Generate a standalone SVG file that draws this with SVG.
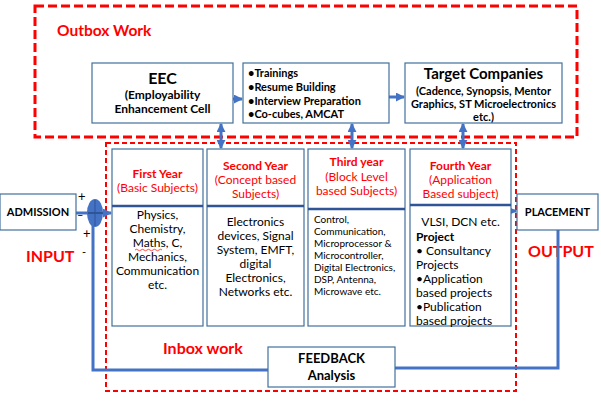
<svg xmlns="http://www.w3.org/2000/svg" width="601" height="402" viewBox="0 0 601 402">
<defs>
<style>
text{font-family:Lato,"Liberation Sans",Arial,sans-serif;fill:#000}
.box{fill:#fff;stroke:#41719C;stroke-width:1.2}
.b{font-weight:bold}
.red{fill:#FF0000}
.c{text-anchor:middle}
.blue{stroke:#4472C4;stroke-width:3;fill:none}
.dashO{fill:none;stroke:#FF0000;stroke-width:3;stroke-dasharray:9,4}
.dashI{fill:none;stroke:#FF0000;stroke-width:2;stroke-dasharray:5,3}
.div{stroke:#2F5597;stroke-width:2.5}
</style>
<marker id="ah" viewBox="0 0 10 10" refX="9" refY="5" markerWidth="3" markerHeight="3" orient="auto-start-reverse">
<path d="M0,0 L10,5 L0,10 z" fill="#4472C4"/>
</marker>
</defs>

<rect class="dashO" x="35" y="6" width="542" height="131"/>
<rect class="dashI" x="106" y="143" width="410" height="248"/>
<text class="b red" x="57" y="36" font-size="15.5">Outbox Work</text>
<text class="b red" x="163" y="354" font-size="16">Inbox work</text>
<text class="b red" x="26" y="262" font-size="16">INPUT</text>
<text class="b red" x="528" y="257" font-size="16">OUTPUT</text>

<g id="connectors">
<line class="blue" x1="233" y1="99" x2="242" y2="99" stroke-width="2.5" marker-end="url(#ah)"/>
<line class="blue" x1="389" y1="97" x2="404" y2="97" marker-end="url(#ah)"/>
<line class="blue" x1="221" y1="124" x2="221" y2="148" marker-start="url(#ah)" marker-end="url(#ah)"/>
<line class="blue" x1="352" y1="124" x2="352" y2="148" marker-start="url(#ah)" marker-end="url(#ah)"/>
<line class="blue" x1="463" y1="124" x2="463" y2="148" marker-start="url(#ah)" marker-end="url(#ah)"/>
<line class="blue" x1="76" y1="213" x2="88" y2="213"/>
<line class="blue" x1="102" y1="213" x2="111" y2="213" marker-end="url(#ah)"/>
<line class="blue" x1="511" y1="211" x2="516" y2="211" stroke-width="2.5" marker-end="url(#ah)"/>
<polyline class="blue" points="93,225 93,370 268,370"/>
<polyline class="blue" points="558,230 558,368 395,368"/>
</g>

<g id="eec">
<rect class="box" x="92" y="63" width="141" height="60"/>
<text class="b c" x="162.5" y="84" font-size="16">EEC</text>
<text class="b c" x="162.5" y="99" font-size="12">(Employability</text>
<text class="b c" x="162.5" y="113" font-size="12">Enhancement Cell</text>
</g>

<g id="trainings">
<rect class="box" x="243" y="63" width="146" height="60"/>
<text class="b" x="248" y="77" font-size="11">•Trainings</text>
<text class="b" x="248" y="91" font-size="11">•Resume Building</text>
<text class="b" x="248" y="105" font-size="11">•Interview Preparation</text>
<text class="b" x="248" y="118" font-size="11">•Co-cubes, AMCAT</text>
</g>

<g id="target">
<rect class="box" x="405" y="63" width="157" height="60"/>
<text class="b c" x="483.5" y="79" font-size="15">Target Companies</text>
<text class="b c" x="483.5" y="95" font-size="11">(Cadence, Synopsis, Mentor</text>
<text class="b c" x="483.5" y="108" font-size="11">Graphics, ST Microelectronics</text>
<text class="b c" x="483.5" y="121" font-size="11">etc.)</text>
</g>

<g id="first-year">
<rect class="box" x="112" y="149" width="91" height="177"/>
<line class="div" x1="112" y1="206" x2="203" y2="206"/>
<text class="b red c" x="157.5" y="178" font-size="12">First Year</text>
<text class="red c" x="157.5" y="192" font-size="12">(Basic Subjects)</text>
<text class="c" x="157.5" y="219" font-size="12">Physics,</text>
<text class="c" x="157.5" y="233" font-size="12">Chemistry,</text>
<text class="c" x="157.5" y="247" font-size="12">Maths, C,</text>
<path d="M135,250 q1.5,-1.5 3,0 t3,0 t3,0 t3,0 t3,0 t3,0 t3,0 t3,0 t3,0" fill="none" stroke="#FF0000" stroke-width="0.7"/>
<text class="c" x="157.5" y="261" font-size="12">Mechanics,</text>
<text class="c" x="157.5" y="275" font-size="12">Communication</text>
<text class="c" x="157.5" y="289" font-size="12">etc.</text>
</g>

<g id="second-year">
<rect class="box" x="207" y="149" width="97" height="177"/>
<line class="div" x1="207" y1="206" x2="304" y2="206"/>
<text class="b red c" x="255.5" y="170" font-size="12">Second Year</text>
<text class="red c" x="255.5" y="184" font-size="12">(Concept based</text>
<text class="red c" x="255.5" y="198" font-size="12">Subjects)</text>
<text class="c" x="255.5" y="226" font-size="12">Electronics</text>
<text class="c" x="255.5" y="240" font-size="12">devices, Signal</text>
<text class="c" x="255.5" y="254" font-size="12">System, EMFT,</text>
<text class="c" x="255.5" y="268" font-size="12">digital</text>
<text class="c" x="255.5" y="282" font-size="12">Electronics,</text>
<text class="c" x="255.5" y="296" font-size="12">Networks etc.</text>
</g>

<g id="third-year">
<rect class="box" x="308" y="149" width="97" height="177"/>
<line class="div" x1="308" y1="209" x2="405" y2="209"/>
<text class="b red c" x="356.5" y="166" font-size="12">Third year</text>
<text class="red c" x="356.5" y="181" font-size="12">(Block Level</text>
<text class="red c" x="356.5" y="195" font-size="12">based Subjects)</text>
<text x="314" y="223" font-size="10">Control,</text>
<text x="314" y="235" font-size="10">Communication,</text>
<text x="314" y="247" font-size="10">Microprocessor &amp;</text>
<text x="314" y="259" font-size="10">Microcontroller,</text>
<text x="314" y="271" font-size="10">Digital Electronics,</text>
<text x="314" y="283" font-size="10">DSP, Antenna,</text>
<text x="314" y="295" font-size="10">Microwave etc.</text>
</g>

<g id="fourth-year">
<rect class="box" x="410" y="149" width="101" height="177"/>
<line class="div" x1="410" y1="205" x2="511" y2="205"/>
<text class="b red c" x="460.5" y="170" font-size="12">Fourth Year</text>
<text class="red c" x="460.5" y="184" font-size="12">(Application</text>
<text class="red c" x="460.5" y="198" font-size="12">Based subject)</text>
<text class="c" x="460.5" y="226" font-size="12">VLSI, DCN etc.</text>
<text class="b" x="416" y="241" font-size="12">Project</text>
<text x="416" y="255" font-size="12">• Consultancy</text>
<text x="416" y="269" font-size="12">Projects</text>
<text x="416" y="283" font-size="12">•Application</text>
<text x="416" y="297" font-size="12">based projects</text>
<text x="416" y="311" font-size="12">•Publication</text>
<text x="416" y="325" font-size="12">based projects</text>
</g>

<g id="admission">
<rect class="box" x="0" y="194" width="76" height="36"/>
<text class="b c" x="38" y="216" font-size="11">ADMISSION</text>
</g>

<g id="junction">
<ellipse cx="95" cy="213" rx="8" ry="14" fill="#4472C4"/>
<line x1="88" y1="213" x2="103" y2="213" stroke="#2F5597" stroke-width="2"/>
<line x1="95" y1="200" x2="95" y2="226" stroke="#2F5597" stroke-width="1"/>
<text x="78" y="201" font-size="13">+</text>
<text x="77" y="219" font-size="11">–</text>
<text x="83" y="238" font-size="13">+</text>
<text x="82" y="256" font-size="11">-</text>
</g>

<g id="placement">
<rect class="box" x="517" y="194" width="81" height="36"/>
<text class="b c" x="557.5" y="216" font-size="11">PLACEMENT</text>
</g>

<g id="feedback">
<rect class="box" x="268" y="347" width="127" height="40"/>
<text class="b c" x="331.5" y="363" font-size="13">FEEDBACK</text>
<text class="b c" x="331.5" y="380" font-size="13">Analysis</text>
</g>
</svg>
